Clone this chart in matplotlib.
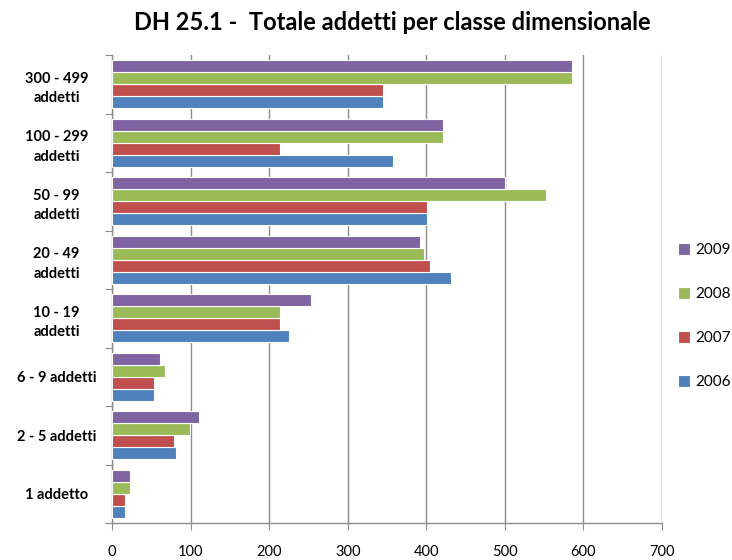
import matplotlib
matplotlib.use("Agg")
import matplotlib.pyplot as plt
import numpy as np

categories = ["1 addetto", "2 - 5 addetti", "6 - 9 addetti", "10 - 19\naddetti",
              "20 - 49\naddetti", "50 - 99\naddetti", "100 - 299\naddetti", "300 - 499\naddetti"]
years = ["2006", "2007", "2008", "2009"]
v2006 = [17, 82, 54, 225, 431, 401, 358, 345]
v2007 = [16, 79, 54, 214, 405, 401, 214, 345]
v2008 = [23, 99, 67, 214, 397, 552, 421, 585]
v2009 = [23, 111, 61, 253, 392, 500, 421, 585]
series = [v2006, v2007, v2008, v2009]
colors = ["#4F81BD", "#C0504D", "#9BBB59", "#8064A2"]

plt.rcParams['font.family'] = ['Lato', 'DejaVu Sans']

fig = plt.figure(figsize=(7.32, 5.6), dpi=100)
ax = fig.add_axes([112/732, 1-523/560, 550/732, (523-55)/560])

y = np.arange(len(categories))
h = 0.205
for i, (vals, c, yr) in enumerate(zip(series, colors, years)):
    ax.barh(y + (i - 1.5) * h, vals, height=h, color=c, edgecolor="white",
            linewidth=0.8, label=yr, zorder=3)

ax.set_xlim(0, 700)
ax.set_ylim(-0.5, len(categories) - 0.5)
ax.set_xticks(np.arange(0, 701, 100))
ax.xaxis.grid(True, color="#8c8c8c", linewidth=1.0, zorder=0)
ax.set_axisbelow(True)

ax.set_yticks(np.arange(-0.5, len(categories), 1.0))
ax.set_yticklabels([])
ax.set_yticks(y, minor=True)
ax.set_yticklabels(categories, minor=True, fontsize=10.5, fontweight="bold",
                   ha="center", multialignment="center", linespacing=1.5)
ax.tick_params(axis="y", which="minor", length=0, pad=40)
ax.tick_params(axis="y", which="major", length=5, color="#8c8c8c", direction="out")
ax.tick_params(axis="x", length=5, color="#8c8c8c", direction="out", labelsize=10.5, pad=11)

for s in ["top", "right"]:
    ax.spines[s].set_visible(False)
for s in ["left", "bottom"]:
    ax.spines[s].set_color("#8c8c8c")
    ax.spines[s].set_linewidth(1.0)

handles, labels = ax.get_legend_handles_labels()
fig.legend(handles[::-1], labels[::-1], loc="center left", bbox_to_anchor=(678/732, 1-316/560),
           frameon=False, fontsize=11, handlelength=0.8, handleheight=0.8, borderpad=0,
           borderaxespad=0, handletextpad=0.3, labelspacing=1.95)

fig.text(392/732, 1-22/560, "DH 25.1 -  Totale addetti per classe dimensionale",
         ha="center", va="center", fontsize=17, fontweight="bold")

fig.savefig("out.png", dpi=100)
